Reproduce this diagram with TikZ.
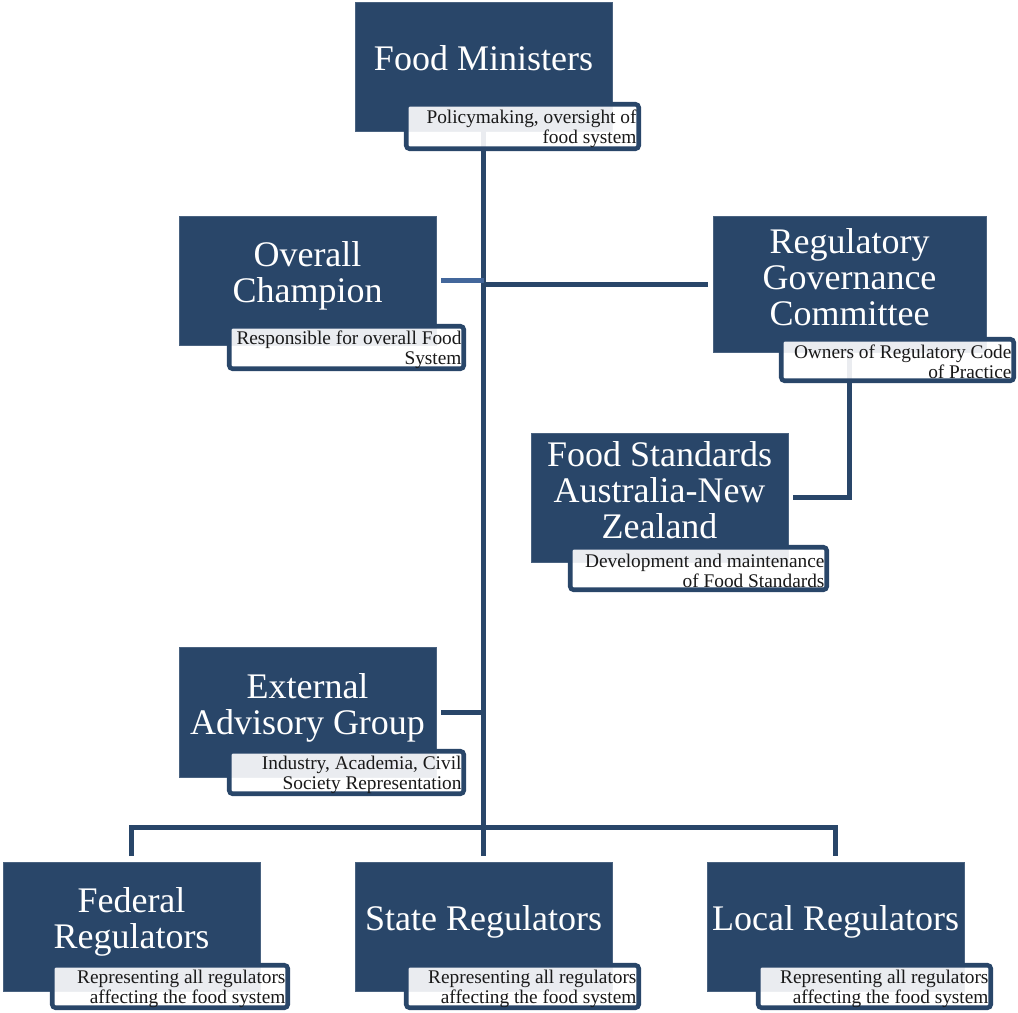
\documentclass[tikz,border=0pt]{standalone}
\usepackage{fontspec}
\setmainfont{Liberation Serif}
\usetikzlibrary{fit}
\definecolor{navy}{HTML}{294669}
\definecolor{lightnavy}{HTML}{43679B}
\begin{document}
\begin{tikzpicture}[x=0.75pt,y=-0.75pt,
  mainbox/.style={fill=navy, draw=navy!85!white, line width=0.4pt, inner sep=0pt, outer sep=0pt},
  subbox/.style={fill=white, fill opacity=0.9, draw=navy, line width=3.4pt, rounded corners=2.5pt, inner sep=0pt, outer sep=0pt},
  maintext/.style={text=white, font=\fontsize{27}{27}\selectfont, align=center, inner sep=0pt},
  subtext/.style={text=black!90, font=\fontsize{14.5}{15}\selectfont, align=right, inner sep=0pt, anchor=east},
  conn/.style={draw=navy, line width=3.75pt},
  connlight/.style={draw=lightnavy, line width=3.75pt}]
\useasboundingbox[fill=white] (0,0) rectangle (1018,1013);

% main boxes
\node[mainbox, fit={(355,2) (612,131)}] (fm) {};
\node[mainbox, fit={(179,216) (436,345)}] (oc) {};
\node[mainbox, fit={(713,216) (986,352)}] (rgc) {};
\node[mainbox, fit={(531,433) (788,562)}] (fs) {};
\node[mainbox, fit={(179,647) (436,777)}] (eag) {};
\node[mainbox, fit={(3,862) (260,991)}] (fed) {};
\node[mainbox, fit={(355,862) (612,991)}] (st) {};
\node[mainbox, fit={(707,862) (964,991)}] (loc) {};

% main texts
\node[maintext] (fmt) at (483.5,58) {Food Ministers};
\node[maintext] (oct) at (307.5,276) {Overall\\Champion};
\node[maintext] (rgct) at (849.5,277) {Regulatory\\Governance\\Committee};
\node[maintext] (fst) at (659.5,490) {Food Standards\\Australia-New\\Zealand};
\node[maintext] (eagt) at (307.5,708) {External\\Advisory Group};
\node[maintext] (fedt) at (131.5,922) {Federal\\Regulators};
\node[maintext] (stt) at (483.5,922) {State Regulators};
\node[maintext] (loct) at (835.5,922) {Local Regulators};

% connectors
\coordinate (bus) at (484,827);
\draw[conn] (fm.south) -- ([yshift=4.5pt]st.north);
\draw[connlight] ([xshift=3.75pt]oc.east) -- (oc.east -| fm.south);
\draw[conn] (rgc.west -| fm.south) -- ([xshift=-3.75pt]rgc.west);
\draw[conn] ([xshift=3.75pt]eag.east) -- (eag.east -| fm.south);
\draw[conn] (rgc.south) |- ([xshift=3.75pt]fs.east);
\draw[conn] ([yshift=4.5pt]fed.north) |- (bus) -| ([yshift=4.5pt]loc.north);

% subtitle boxes
\node[subbox, fit={(406.25,104.25) (638.75,148.75)}] (fms) {};
\node[subbox, fit={(229.25,326.25) (463.75,368.75)}] (ocs) {};
\node[subbox, fit={(781.25,339.25) (1013.75,380.75)}] (rgcs) {};
\node[subbox, fit={(570.25,547.25) (826.75,589.75)}] (fss) {};
\node[subbox, fit={(229.25,751.25) (463.75,793.75)}] (eags) {};
\node[subbox, fit={(52.25,965.25) (287.75,1007.75)}] (feds) {};
\node[subbox, fit={(406.25,965.25) (638.75,1007.75)}] (sts) {};
\node[subbox, fit={(758.25,965.25) (990.75,1007.75)}] (locs) {};

% subtitle texts
\node[subtext] (fmst) at ([xshift=-1.5pt,yshift=-1.5pt]fms.east) {Policymaking, oversight of\\food system};
\node[subtext] (ocst) at ([xshift=-1.5pt,yshift=-1.5pt]ocs.east) {Responsible for overall Food\\System};
\node[subtext] (rgcst) at ([xshift=-1.5pt,yshift=-1.5pt]rgcs.east) {Owners of Regulatory Code\\of Practice};
\node[subtext] (fsst) at ([xshift=-1.5pt,yshift=-1.5pt]fss.east) {Development and maintenance\\of Food Standards};
\node[subtext] (eagst) at ([xshift=-1.5pt,yshift=-1.5pt]eags.east) {Industry, Academia, Civil\\Society Representation};
\node[subtext] (fedst) at ([xshift=-1.5pt,yshift=-1.5pt]feds.east) {Representing all regulators\\affecting the food system};
\node[subtext] (stst) at ([xshift=-1.5pt,yshift=-1.5pt]sts.east) {Representing all regulators\\affecting the food system};
\node[subtext] (locst) at ([xshift=-1.5pt,yshift=-1.5pt]locs.east) {Representing all regulators\\affecting the food system};
\end{tikzpicture}
\end{document}
